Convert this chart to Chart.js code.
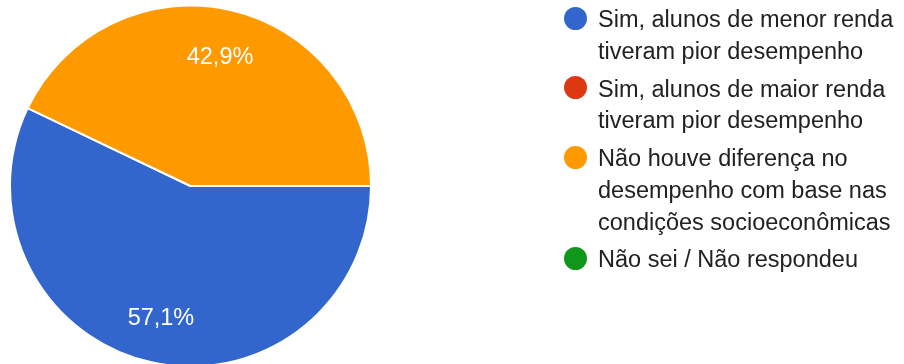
<!DOCTYPE html>
<html lang="pt-BR">
<head>
<meta charset="UTF-8">
<title>Desempenho</title>
<script src="https://cdn.jsdelivr.net/npm/chart.js@4.4.1/dist/chart.umd.min.js"></script>
<style>
  body { margin: 0; background: #fff; }
  #box { position: relative; width: 904px; height: 364px; overflow: hidden; }
  #pizza { position: absolute; left: 0; top: 0; }
  #legenda {
    position: absolute; left: 563.5px; top: 4.3px; margin: 0; padding: 0; list-style: none;
    font: 23.5px/31.7px "Liberation Sans", Arial, sans-serif; color: #212121; white-space: nowrap;
  }
  #legenda li { position: relative; padding-left: 34.5px; margin-bottom: 6px; }
  #legenda .ponto { position: absolute; left: 0; top: 2.7px; width: 23px; height: 23px; border-radius: 50%; }
</style>
</head>
<body>
<div id="box">
  <canvas id="pizza" width="904" height="364"></canvas>
  <ul id="legenda"></ul>
</div>

<script>
// respostas (%)
const rotulos = [
  ['Sim, alunos de menor renda', 'tiveram pior desempenho'],
  ['Sim, alunos de maior renda', 'tiveram pior desempenho'],
  ['Não houve diferença no', 'desempenho com base nas', 'condições socioeconômicas'],
  ['Não sei / Não respondeu']
];
const valores = [57.1, 0, 42.9, 0];
const cores = ['#3366cc', '#dc3912', '#ff9900', '#109618'];

// legenda em html
const ul = document.getElementById('legenda');
rotulos.forEach((linhas, i) => {
  const li = document.createElement('li');
  const ponto = document.createElement('span');
  ponto.className = 'ponto';
  ponto.style.background = cores[i];
  li.appendChild(ponto);
  linhas.forEach((t, j) => {
    if (j > 0) li.appendChild(document.createElement('br'));
    li.appendChild(document.createTextNode(t));
  });
  ul.appendChild(li);
});

// escreve a porcentagem dentro de cada fatia
const porcentagens = {
  id: 'porcentagens',
  afterDatasetsDraw(chart) {
    const ctx = chart.ctx;
    const meta = chart.getDatasetMeta(0);
    ctx.save();
    ctx.font = '23.5px "Liberation Sans", Arial, sans-serif';
    ctx.fillStyle = '#ffffff';
    ctx.textAlign = 'center';
    ctx.textBaseline = 'alphabetic';
    meta.data.forEach((arc, i) => {
      const v = valores[i];
      if (!v) return;
      const p = arc.getProps(['x', 'y', 'startAngle', 'endAngle', 'outerRadius'], true);
      const meio = (p.startAngle + p.endAngle) / 2;
      const r = p.outerRadius * 0.74;
      ctx.fillText(v.toFixed(1).replace('.', ',') + '%',
        p.x + Math.cos(meio) * r, p.y + Math.sin(meio) * r + 8.4);
    });
    ctx.restore();
  }
};

new Chart(document.getElementById('pizza'), {
  type: 'pie',
  data: {
    labels: rotulos.map(l => l.join(' ')),
    datasets: [{
      data: valores,
      backgroundColor: cores,
      borderColor: '#ffffff',
      borderWidth: 2,
      radius: 180.5,
      clip: false
    }]
  },
  options: {
    responsive: false,
    animation: false,
    rotation: 90,
    layout: { padding: { top: 8, right: 523, bottom: 0, left: 0 } },
    plugins: {
      legend: { display: false },
      tooltip: { enabled: false }
    }
  },
  plugins: [porcentagens]
});
</script>
</body>
</html>
